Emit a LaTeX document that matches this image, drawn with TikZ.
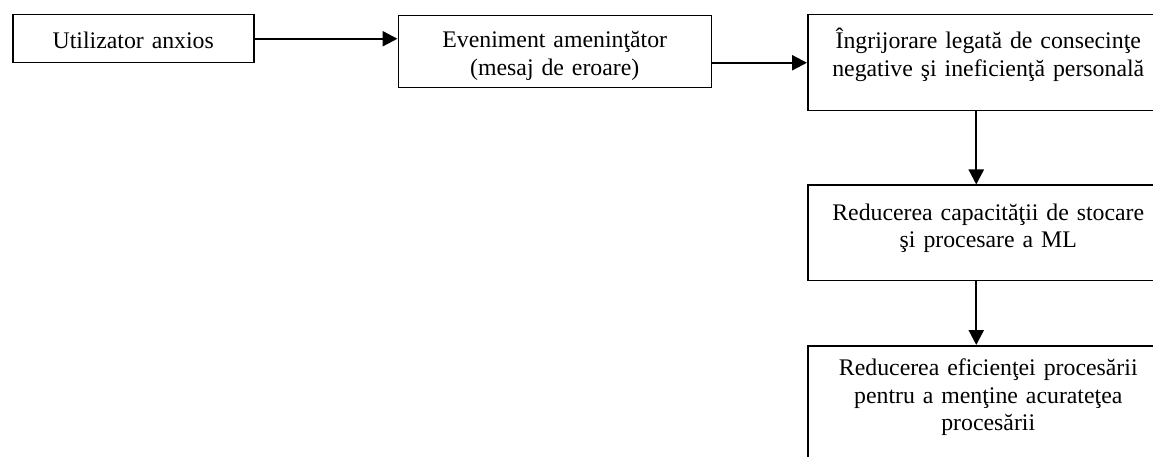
\documentclass[tikz,border=0pt]{standalone}
\usepackage{fontspec}
\setmainfont{Liberation Serif}
\usetikzlibrary{arrows.meta,positioning}

\begin{document}
\begin{tikzpicture}[x=1pt,y=1pt,>={Triangle[length=15pt,width=15pt]},node distance=1cm,align=center,
		stagebox/.style={draw,line width=1.5pt,inner xsep=4pt,inner ysep=4pt,font=\fontsize{23.8}{27.4}\selectfont},
		flow/.style={->,line width=2.3pt}]
		\useasboundingbox (0,0) rectangle (1153,-457);
		\clip (0,0) rectangle (1153,-457);
		\node[stagebox,anchor=north west,text width=233pt,text height=30pt,text depth=10pt] (user) at (12,-14) {Utilizator anxios};
		\node[stagebox,text width=305pt,text height=28pt,text depth=36pt] [right=143pt of user.north east,anchor=north west,yshift=-1pt] (event) {Eveniment amenin\c{t}\u{a}tor\\(mesaj de eroare)};
		\node[stagebox,text width=353pt,text height=30pt,text depth=58pt] [right=95pt of event.north east,anchor=north west,yshift=1pt] (worry) {\^Ingrijorare legat\u{a} de consecin\c{t}e\\negative \c{s}i ineficien\c{t}\u{a} personal\u{a}};
		\node[stagebox,text width=353pt,text height=31pt,text depth=56pt] [below=73pt of worry] (capacity) {Reducerea capacit\u{a}\c{t}ii de stocare\\\c{s}i procesare a ML};
		\node[stagebox,text width=353pt,text height=26pt,text depth=96pt] [below=64pt of capacity] (efficiency) {Reducerea eficien\c{t}ei proces\u{a}rii\\pentru a men\c{t}ine acurate\c{t}ea\\proces\u{a}rii};
		\path[flow]
			(user.east) edge (user.east -| event.west)
			(event.east |- worry.west) edge (worry.west)
			([xshift=-12pt]worry.south) edge ([xshift=-12pt]capacity.north)
			([xshift=-12pt]capacity.south) edge ([xshift=-12pt]efficiency.north);
	\end{tikzpicture}
\end{document}
